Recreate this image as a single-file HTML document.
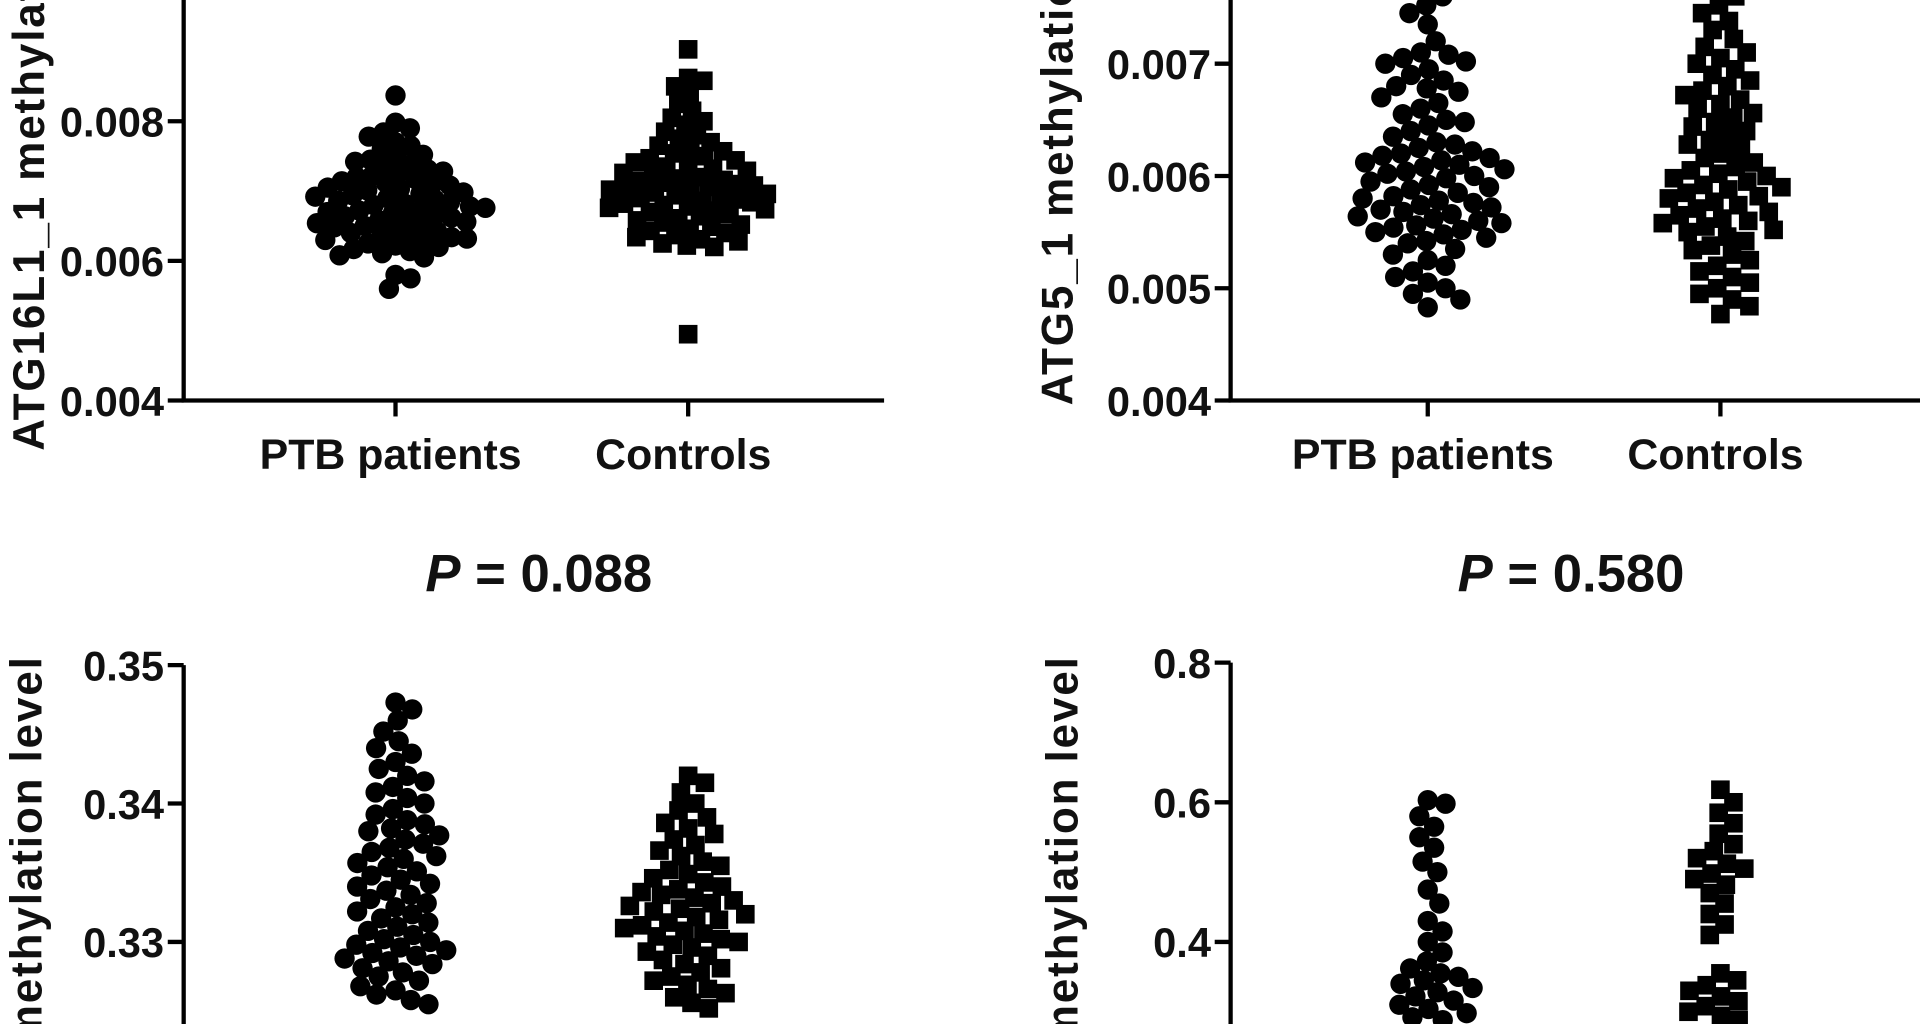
<!DOCTYPE html>
<html><head><meta charset="utf-8"><style>
html,body{margin:0;padding:0;background:#fff;overflow:hidden;width:1920px;height:1024px}
svg{display:block}
text{font-family:"Liberation Sans",Arial,sans-serif;font-weight:bold;fill:#111}
</style></head><body>
<svg id="fig" xmlns="http://www.w3.org/2000/svg" width="1920" height="1024" viewBox="0 0 1568 836" preserveAspectRatio="none" overflow="hidden">
<defs><clipPath id="frame"><rect x="0" y="0" width="1568" height="836"/></clipPath></defs>
</svg>
<script>
// ---- data ----
const categories = ["PTB patients", "Controls"];
const pLabels = ["P = 0.088", "P = 0.580"];

const atg16Ptb = [0.00837,0.00798,0.00790,0.00784,0.00778,0.00770,0.00765,0.00760,0.00752,0.00748,0.00745,0.00742,0.00738,0.00735,0.00731,0.00728,0.00725,0.00722,0.00720,0.00717,0.00714,0.00712,0.00710,0.00708,0.00705,0.00703,0.00701,0.00698,0.00696,0.00694,0.00692,0.00690,0.00688,0.00686,0.00684,0.00682,0.00680,0.00678,0.00676,0.00674,0.00672,0.00670,0.00668,0.00666,0.00664,0.00662,0.00660,0.00658,0.00656,0.00654,0.00652,0.00650,0.00648,0.00645,0.00642,0.00640,0.00638,0.00636,0.00634,0.00632,0.00630,0.00628,0.00625,0.00622,0.00620,0.00617,0.00614,0.00611,0.00608,0.00605,0.00580,0.00575,0.00560];
const atg16Ctrl = [0.00903,0.00862,0.00858,0.00850,0.00840,0.00825,0.00815,0.00805,0.00800,0.00795,0.00785,0.00780,0.00775,0.00770,0.00765,0.00760,0.00757,0.00754,0.00750,0.00747,0.00744,0.00741,0.00738,0.00735,0.00732,0.00729,0.00726,0.00723,0.00720,0.00718,0.00716,0.00714,0.00712,0.00710,0.00708,0.00706,0.00704,0.00702,0.00700,0.00698,0.00696,0.00694,0.00692,0.00690,0.00688,0.00686,0.00684,0.00682,0.00680,0.00678,0.00676,0.00674,0.00672,0.00670,0.00667,0.00664,0.00661,0.00658,0.00655,0.00652,0.00649,0.00646,0.00643,0.00640,0.00637,0.00634,0.00631,0.00628,0.00625,0.00622,0.00620,0.00495];
const atg5Ptb = [0.00790,0.00780,0.00770,0.00760,0.00752,0.00745,0.00735,0.00720,0.00710,0.00708,0.00705,0.00702,0.00700,0.00695,0.00690,0.00685,0.00680,0.00678,0.00675,0.00670,0.00665,0.00660,0.00655,0.00650,0.00648,0.00645,0.00640,0.00635,0.00630,0.00628,0.00625,0.00622,0.00620,0.00618,0.00616,0.00614,0.00612,0.00610,0.00608,0.00606,0.00604,0.00602,0.00600,0.00598,0.00595,0.00592,0.00590,0.00588,0.00585,0.00582,0.00580,0.00578,0.00576,0.00574,0.00572,0.00570,0.00568,0.00566,0.00564,0.00562,0.00560,0.00558,0.00556,0.00554,0.00552,0.00550,0.00548,0.00545,0.00542,0.00540,0.00535,0.00530,0.00525,0.00520,0.00515,0.00510,0.00505,0.00500,0.00495,0.00490,0.00483];
const atg5Ctrl = [0.00790,0.00780,0.00770,0.00760,0.00752,0.00745,0.00738,0.00730,0.00722,0.00715,0.00710,0.00705,0.00700,0.00695,0.00690,0.00685,0.00680,0.00676,0.00672,0.00668,0.00664,0.00660,0.00656,0.00652,0.00648,0.00644,0.00640,0.00636,0.00632,0.00628,0.00624,0.00620,0.00616,0.00612,0.00608,0.00605,0.00602,0.00600,0.00598,0.00595,0.00592,0.00590,0.00588,0.00585,0.00582,0.00580,0.00577,0.00574,0.00571,0.00568,0.00565,0.00562,0.00560,0.00558,0.00555,0.00552,0.00550,0.00546,0.00542,0.00538,0.00534,0.00530,0.00525,0.00520,0.00515,0.00510,0.00505,0.00500,0.00495,0.00490,0.00484,0.00477];
const atg4Ptb = [0.3473,0.3468,0.3460,0.3452,0.3445,0.3440,0.3436,0.3430,0.3425,0.3420,0.3416,0.3412,0.3408,0.3404,0.3400,0.3396,0.3392,0.3388,0.3385,0.3382,0.3380,0.3377,0.3374,0.3371,0.3368,0.3365,0.3362,0.3360,0.3357,0.3354,0.3351,0.3348,0.3345,0.3342,0.3340,0.3337,0.3334,0.3331,0.3328,0.3325,0.3322,0.3320,0.3317,0.3314,0.3311,0.3308,0.3305,0.3302,0.3300,0.3298,0.3296,0.3294,0.3292,0.3290,0.3288,0.3286,0.3284,0.3281,0.3278,0.3275,0.3272,0.3268,0.3265,0.3262,0.3258,0.3255];
const atg4Ctrl = [0.3420,0.3415,0.3408,0.3400,0.3395,0.3390,0.3386,0.3382,0.3378,0.3374,0.3370,0.3366,0.3362,0.3358,0.3355,0.3352,0.3349,0.3346,0.3343,0.3340,0.3338,0.3336,0.3334,0.3332,0.3330,0.3328,0.3326,0.3324,0.3322,0.3320,0.3318,0.3316,0.3314,0.3312,0.3310,0.3308,0.3306,0.3304,0.3302,0.3300,0.3298,0.3296,0.3293,0.3290,0.3287,0.3284,0.3281,0.3278,0.3275,0.3272,0.3269,0.3266,0.3263,0.3260,0.3256,0.3252];
const atg7Ptb = [0.603,0.598,0.580,0.565,0.550,0.535,0.515,0.500,0.475,0.455,0.430,0.415,0.400,0.385,0.372,0.362,0.355,0.350,0.345,0.340,0.334,0.328,0.322,0.316,0.310,0.304,0.298,0.292,0.288];
const atg7Ctrl = [0.618,0.600,0.585,0.570,0.555,0.540,0.530,0.520,0.512,0.505,0.498,0.490,0.482,0.470,0.455,0.440,0.425,0.410,0.355,0.345,0.338,0.330,0.322,0.315,0.308,0.300,0.294,0.288];

const ticks1 = [0.004,0.006,0.008]; const tickLabels1 = ["0.004","0.006","0.008"];
const ticks2 = [0.004,0.005,0.006,0.007]; const tickLabels2 = ["0.004","0.005","0.006","0.007"];
const ticks3 = [0.33,0.34,0.35]; const tickLabels3 = ["0.33","0.34","0.35"];
const ticks4 = [0.4,0.6,0.8]; const tickLabels4 = ["0.4","0.6","0.8"];

// ---- drawing ----
const NS = "http://www.w3.org/2000/svg";
const svg = document.getElementById("fig");
const root = document.createElementNS(NS, "g");
root.setAttribute("clip-path", "url(#frame)");


svg.appendChild(root);
function mk(tag, attrs, parent) {
  const e = document.createElementNS(NS, tag);
  for (const k in attrs) e.setAttribute(k, attrs[k]);
  (parent || root).appendChild(e);
  return e;
}
function swarm(ys, r) {
  const order = ys.map((y, i) => i).sort((a, b) => ys[a] - ys[b]);
  const placed = []; const xs = new Array(ys.length);
  const D = 2 * r;
  for (const i of order) {
    const y = ys[i];
    const near = placed.filter(p => Math.abs(p.y - y) < D);
    const cands = [0];
    near.forEach(p => { const dx = Math.sqrt(D * D - (p.y - y) ** 2); cands.push(p.x + dx, p.x - dx); });
    cands.sort((a, b) => Math.abs(a) - Math.abs(b));
    let best = 0;
    for (const c of cands) {
      if (near.every(p => (p.x - c) ** 2 + (p.y - y) ** 2 >= D * D - 0.01)) { best = c; break; }
    }
    xs[i] = best; placed.push({ x: best, y });
  }
  return xs;
}
function panel(cfg) {
  const g = mk("g", {});
  
  
  const yScale = v => cfg.y0 + (v - cfg.v0) * (cfg.y1 - cfg.y0) / (cfg.v1 - cfg.v0);
  const catX = [cfg.cx0, cfg.cx1];
  [cfg.ptb, cfg.ctrl].forEach((vals, gi) => {
    const ys = vals.map(yScale);
    const xs = swarm(ys, cfg.sr);
    const pg = mk("g", {}, g);
    
    
    ys.forEach((y, i) => {
      if (y > 850 || y < -15) return;
      let m;
      if (gi === 0) m = mk("circle", { cx: catX[gi] + xs[i], cy: y, r: 8.3, fill: "#000" }, pg);
      else m = mk("rect", { x: catX[gi] + xs[i] - 7.6, y: y - 7.6, width: 15.2, height: 15.2, fill: "#000" }, pg);
      
      
    });
  });
  const ya = mk("line", { x1: cfg.ax, y1: cfg.axTop, x2: cfg.ax, y2: cfg.axBot, stroke: "#000", "stroke-width": 3.5 }, g);
   
  if (cfg.xaxis) {
    const xa = mk("line", { x1: cfg.ax - 1.7, y1: cfg.axBot, x2: cfg.axRight, y2: cfg.axBot, stroke: "#000", "stroke-width": 3.5 }, g);
     
    catX.forEach((x, i) => {
      mk("line", { x1: x, y1: cfg.axBot, x2: x, y2: cfg.axBot + 13, stroke: "#000", "stroke-width": 3.5 }, g);
      const t = mk("text", { x: x - 4, y: cfg.axBot + 56, "font-size": 35, "text-anchor": "middle" }, g);
      t.textContent = categories[i];
       
    });
  }
  cfg.ticks.forEach((v, i) => {
    const y = yScale(v);
    mk("line", { x1: cfg.ax - 13, y1: y, x2: cfg.ax, y2: y, stroke: "#000", "stroke-width": 3.5 }, g);
    const t = mk("text", { x: cfg.ax - 16, y: y + 12.5, "font-size": 34, "text-anchor": "end" }, g);
    t.textContent = cfg.tickLabels[i];
     
  });
  const tt = mk("text", { x: 0, y: 0, "font-size": 36, "letter-spacing": 1.5, "text-anchor": cfg.titleAnchor, transform: `translate(${cfg.titleX},${cfg.titleY}) rotate(-90)` }, g);
  tt.textContent = cfg.title;
   
}

panel({ name: "atg16l1-panel", ptb: atg16Ptb, ctrl: atg16Ctrl, sr: 6.3, v0: 0.004, v1: 0.008, y0: 327, y1: 99, ax: 150, axTop: 0, axBot: 327, axRight: 722, cx0: 323, cx1: 562, xaxis: true, ticks: ticks1, tickLabels: tickLabels1, title: "ATG16L1_1 methylation level", titleX: 36, titleY: 368, titleAnchor: "start" });
panel({ name: "atg5-panel", ptb: atg5Ptb, ctrl: atg5Ctrl, sr: 7.6, v0: 0.004, v1: 0.007, y0: 327, y1: 52, ax: 1005, axTop: 0, axBot: 327, axRight: 1568, cx0: 1166, cx1: 1405, xaxis: true, ticks: ticks2, tickLabels: tickLabels2, title: "ATG5_1 methylation level", titleX: 876, titleY: 331, titleAnchor: "start" });
panel({ name: "bottom-left-panel", ptb: atg4Ptb, ctrl: atg4Ctrl, sr: 7.4, v0: 0.33, v1: 0.35, y0: 769, y1: 543, ax: 150, axTop: 543, axBot: 836, axRight: 722, cx0: 323, cx1: 562, xaxis: false, ticks: ticks3, tickLabels: tickLabels3, title: "ATG4_1 methylation level", titleX: 34, titleY: 535, titleAnchor: "end" });
panel({ name: "bottom-right-panel", ptb: atg7Ptb, ctrl: atg7Ctrl, sr: 7.4, v0: 0.4, v1: 0.8, y0: 769, y1: 541, ax: 1005, axTop: 541, axBot: 836, axRight: 1568, cx0: 1166, cx1: 1405, xaxis: false, ticks: ticks4, tickLabels: tickLabels4, title: "ATG7_1 methylation level", titleX: 880, titleY: 535, titleAnchor: "end" });

[[440, 0], [1283, 1]].forEach(([x, i]) => {
  const t = mk("text", { x: x, y: 483, "font-size": 43, "text-anchor": "middle" });
  const parts = pLabels[i].split(" = ");
  const it = mk("tspan", { "font-style": "italic" }, t); it.textContent = parts[0];
  const rest = mk("tspan", {}, t); rest.textContent = " = " + parts[1];
  
  
});
</script>
</body></html>
